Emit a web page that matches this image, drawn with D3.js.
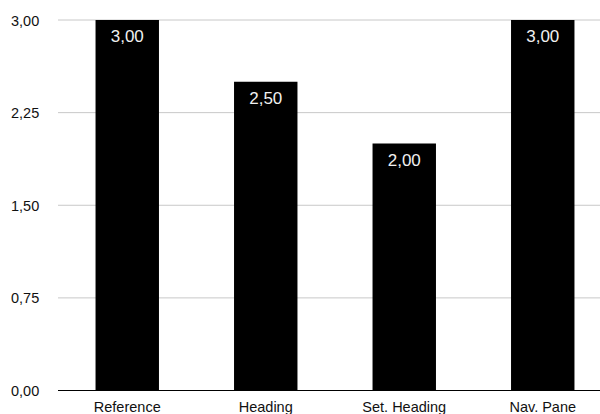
<!DOCTYPE html>
<html>
<head>
<meta charset="utf-8">
<script src="https://cdn.jsdelivr.net/npm/d3@7"></script>
<style>
  html, body { margin: 0; padding: 0; background: #fff; }
  svg { display: block; font-family: "Liberation Sans", Arial, Helvetica, sans-serif; }
</style>
</head>
<body>
<svg id="chart" width="600" height="414"></svg>
<script>
const categories = ["Reference", "Heading", "Set. Heading", "Nav. Pane"];
const values = [3.00, 2.50, 2.00, 3.00];
const tickValues = [0, 0.75, 1.5, 2.25, 3.0];

const fmt = v => d3.format(".2f")(v).replace(".", ",");

const width = 600, height = 414;
const plot = { left: 58, right: 612, top: 20, bottom: 390.5 };

const svg = d3.select("#chart");

const x = d3.scaleBand()
  .domain(categories)
  .range([plot.left, plot.right])
  .paddingInner(0.542)
  .paddingOuter(0.271);

const y = d3.scaleLinear()
  .domain([0, 3])
  .range([plot.bottom, plot.top]);

// horizontal gridlines
svg.append("g")
  .selectAll("line")
  .data(tickValues.filter(t => t > 0))
  .join("line")
  .attr("x1", plot.left)
  .attr("x2", width)
  .attr("y1", d => y(d))
  .attr("y2", d => y(d))
  .attr("stroke", "#c8c8c8")
  .attr("stroke-width", 1);

// y tick labels
svg.append("g")
  .selectAll("text")
  .data(tickValues)
  .join("text")
  .attr("x", 11)
  .attr("y", d => y(d) + 5.5)
  .attr("font-size", 14.5)
  .attr("fill", "#111")
  .text(d => fmt(d));

// bars
svg.append("g")
  .selectAll("rect")
  .data(values)
  .join("rect")
  .attr("x", (d, i) => x(categories[i]))
  .attr("width", x.bandwidth())
  .attr("y", d => y(d))
  .attr("height", d => y(0) - y(d))
  .attr("fill", "#000");

// value labels inside bars
svg.append("g")
  .selectAll("text")
  .data(values)
  .join("text")
  .attr("x", (d, i) => x(categories[i]) + x.bandwidth() / 2)
  .attr("y", d => y(d) + 22)
  .attr("text-anchor", "middle")
  .attr("font-size", 17)
  .attr("fill", "#f0f0f0")
  .text(d => fmt(d));

// baseline axis
svg.append("line")
  .attr("x1", plot.left)
  .attr("x2", width)
  .attr("y1", y(0))
  .attr("y2", y(0))
  .attr("stroke", "#000")
  .attr("stroke-width", 1);

// category labels
svg.append("g")
  .selectAll("text")
  .data(categories)
  .join("text")
  .attr("x", d => x(d) + x.bandwidth() / 2)
  .attr("y", 412)
  .attr("text-anchor", "middle")
  .attr("font-size", 14.5)
  .attr("fill", "#111")
  .text(d => d);
</script>
</body>
</html>
